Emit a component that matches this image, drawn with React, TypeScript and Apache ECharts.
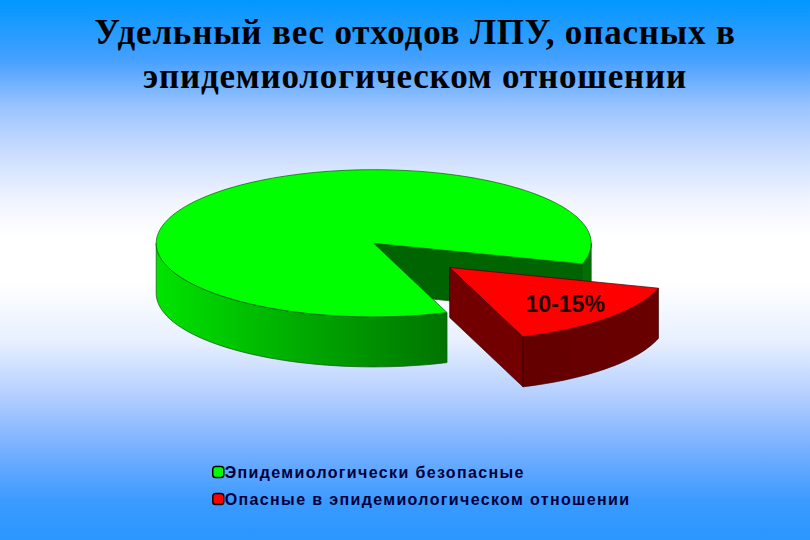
import React, { useEffect, useRef } from "react";
import * as echarts from "echarts";

const titleLines = ["Удельный вес отходов ЛПУ, опасных в", "эпидемиологическом отношении"];
const categories = ["Эпидемиологически безопасные", "Опасные в эпидемиологическом отношении"];
const values = [85, 15];
const sliceLabels = ["", "10-15%"];

const START_DEG = 70.3; // first slice starts here, clockwise on screen
const CX = 373.7, CY = 243.3, RX = 217.5, RY = 73.6, DEPTH = 50;
const EXPLODE = [0, 0.48];

const skins = [
  {
    top: "#00ff00", line: "#0a5a0a", cut: "#006400",
    wall: [[0, "#00e400"], [0.5, "#00aa00"], [1, "#007400"]],
    wall2: "#007000",
  },
  {
    top: "#ff0000", line: "#3a0000", cut: "#720000",
    wall: [[0, "#640000"], [1, "#6a0000"]],
    wall2: "#6a0000",
  },
];

const total = values.reduce((a, b) => a + b, 0);
const rad = (d: number) => (d * Math.PI) / 180;

function arcPts(cx: number, cy: number, a: number, b: number) {
  const out: number[][] = [];
  const n = Math.max(2, Math.ceil(Math.abs(b - a) / 2));
  for (let i = 0; i <= n; i++) {
    const t = rad(a + ((b - a) * i) / n);
    out.push([cx + RX * Math.cos(t), cy + RY * Math.sin(t)]);
  }
  return out;
}

function renderSlice(i: number) {
  const before = values.slice(0, i).reduce((a, b) => a + b, 0);
  const a = START_DEG + (before / total) * 360;
  const b = a + (values[i] / total) * 360;
  const mid = rad((a + b) / 2);
  const cx = CX + EXPLODE[i] * RX * Math.cos(mid);
  const cy = CY + EXPLODE[i] * RY * Math.sin(mid);
  const skin = skins[i];
  const children: any[] = [];
  const stroke = { stroke: skin.line, lineWidth: 0.7 };

  const face = (deg: number) => {
    const t = rad(deg);
    const x = cx + RX * Math.cos(t), y = cy + RY * Math.sin(t);
    return { type: "polygon", shape: { points: [[cx, cy], [x, y], [x, y + DEPTH], [cx, cy + DEPTH]] }, style: { fill: skin.cut, ...stroke } };
  };
  const wall = (from: number, to: number, fill: any) => {
    const upper = arcPts(cx, cy, from, to);
    const lower = upper.map(([x, y]) => [x, y + DEPTH]).reverse();
    return { type: "polygon", shape: { points: [...upper, ...lower] }, style: { fill, ...stroke } };
  };
  const grad = (stops: any[]) => ({
    type: "linear", x: 0, y: 0, x2: 1, y2: 0,
    colorStops: stops.map(([offset, color]) => ({ offset, color })),
  });

  // cut face that looks towards the viewer
  children.push(face(b - 360));

  // visible outer wall: lower half of the ellipse
  const lo = a % 360, hi = lo + (b - a);
  if (lo < 180) children.push(wall(lo, Math.min(180, hi), grad(skin.wall)));
  if (hi > 360) children.push(wall(360, hi, skin.wall2));

  const rim = arcPts(cx, cy, a, b);
  children.push({ type: "polygon", shape: { points: [[cx, cy], ...rim] }, style: { fill: skin.top, ...stroke } });

  if (sliceLabels[i]) {
    children.push({
      type: "text",
      style: {
        text: sliceLabels[i], x: cx + 0.73 * RX * Math.cos(mid), y: cy + 0.73 * RY * Math.sin(mid),
        align: "center", verticalAlign: "middle",
        font: "bold 23px 'Liberation Sans', Arial, sans-serif", fill: "#1a0000",
      },
    });
  }
  return { type: "group", children };
}

export default function App() {
  const ref = useRef<HTMLDivElement>(null);
  useEffect(() => {
    const chart = echarts.init(ref.current!, null, { renderer: "svg" });
    chart.setOption({
      animation: false,
      backgroundColor: {
        type: "linear", x: 0, y: 0, x2: 0, y2: 1,
        colorStops: [
          { offset: 0, color: "#0097ff" },
          { offset: 0.11, color: "#45a0ff" },
          { offset: 0.2, color: "#9cc4ff" },
          { offset: 0.28, color: "#c8dcff" },
          { offset: 0.37, color: "#f0f4ff" },
          { offset: 0.44, color: "#ffffff" },
          { offset: 0.52, color: "#ffffff" },
          { offset: 0.63, color: "#e8f0ff" },
          { offset: 0.74, color: "#b0ccff" },
          { offset: 0.83, color: "#78b0ff" },
          { offset: 0.93, color: "#3a9aff" },
          { offset: 1, color: "#2a98ff" },
        ],
      },
      title: {
        text: titleLines.join("\n"), left: 410, top: 5, textAlign: "center",
        textStyle: { fontFamily: "'Liberation Serif', 'Times New Roman', serif", fontSize: 35, fontWeight: "bold", color: "#000", lineHeight: 44 },
      },
      legend: {
        orient: "vertical", left: 207, top: 459, itemWidth: 11, itemHeight: 11, itemGap: 11,
        icon: "roundRect", data: categories,
        itemStyle: { borderColor: "#000", borderWidth: 1.5 },
        textStyle: { fontFamily: "'Liberation Sans', Arial, sans-serif", fontSize: 16, fontWeight: "bold", color: "#00003a", padding: [0, 0, 0, -4] },
      },
      series: categories.map((name, i) => ({
        type: "custom", name, coordinateSystem: "none", silent: true,
        itemStyle: { color: skins[i].top },
        data: [[values[i]]],
        renderItem: () => renderSlice(i),
      })),
    });
    return () => chart.dispose();
  }, []);
  const css = `text[style*="16px"]{letter-spacing:1.36px} text[style*="35px"]{letter-spacing:0.83px}`;
  return (
    <>
      <style>{css}</style>
      <div ref={ref} style={{ position: "fixed", left: 0, top: 0, width: 810, height: 540 }} />
    </>
  );
}
